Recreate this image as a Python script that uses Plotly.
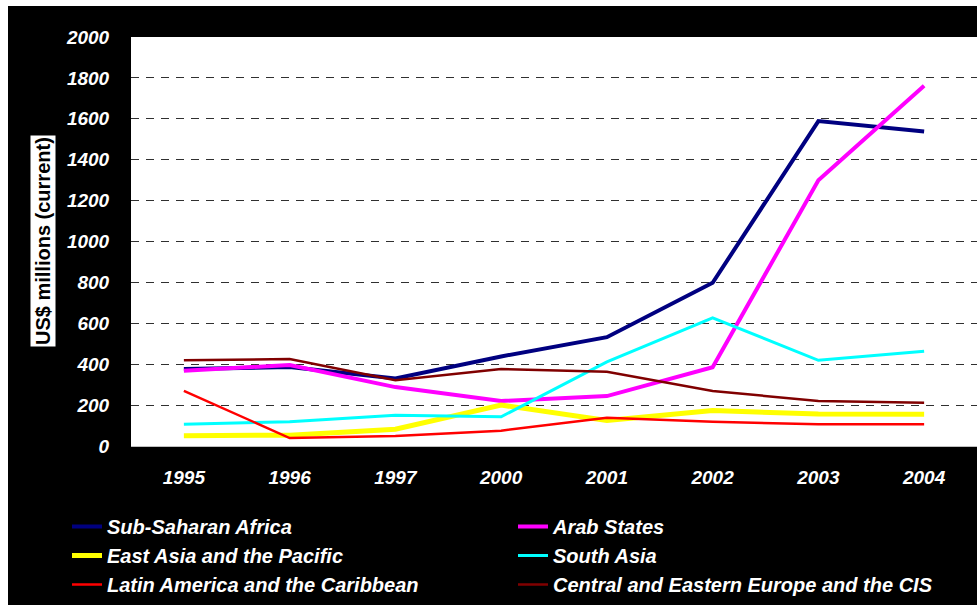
import plotly.graph_objects as go

# Categories (years) and series values, US$ millions (current)
years = ["1995", "1996", "1997", "2000", "2001", "2002", "2003", "2004"]

sub_saharan_africa = [376, 386, 330, 438, 532, 798, 1589, 1538]
arab_states = [368, 396, 288, 220, 244, 385, 1300, 1762]
east_asia_pacific = [50, 53, 82, 200, 125, 173, 156, 155]
south_asia = [106, 119, 150, 143, 411, 627, 419, 463]
latin_america_caribbean = [270, 39, 49, 75, 138, 119, 106, 106]
central_eastern_europe_cis = [419, 425, 322, 376, 363, 269, 220, 212]

y_ticks = [0, 200, 400, 600, 800, 1000, 1200, 1400, 1600, 1800, 2000]

series = [
    ("Sub-Saharan Africa", sub_saharan_africa, "#000080", 4),
    ("Arab States", arab_states, "#FF00FF", 4),
    ("East Asia and the Pacific", east_asia_pacific, "#FFFF00", 5),
    ("South Asia", south_asia, "#00FFFF", 3),
    ("Latin America and the Caribbean", latin_america_caribbean, "#FF0000", 2.5),
    ("Central and Eastern Europe and the CIS", central_eastern_europe_cis, "#800000", 2.5),
]

FONT = "Liberation Sans, Arial, sans-serif"

fig = go.Figure()
for name, values, color, width in series:
    fig.add_trace(go.Scatter(
        x=years, y=values, name=name, mode="lines",
        line=dict(color=color, width=width),
    ))

W, H = 977, 605
left, right, top, bottom = 131, 0, 37, 159
plot_w = W - left - right
plot_h = H - top - bottom

def px_x(p):
    return (p - left) / plot_w

def px_y(p):
    return (H - bottom - p) / plot_h

tick_font = dict(family=FONT, size=19, color="white", weight="bold", style="italic")

fig.update_layout(
    width=W, height=H,
    margin=dict(l=left, r=right, t=top, b=bottom, pad=0),
    paper_bgcolor="black",
    plot_bgcolor="white",
    showlegend=True,
    legend=dict(
        orientation="h",
        x=px_x(67), y=px_y(507), xanchor="left", yanchor="top",
        entrywidth=401, entrywidthmode="pixels",
        bgcolor="black",
        font=dict(family=FONT, size=20, color="white", weight="bold", style="italic"),
        traceorder="normal",
    ),
    xaxis=dict(
        type="category",
        range=[-0.5, len(years) - 0.5],
        showgrid=False,
        showline=True, linecolor="#C0C0C0", linewidth=1,
        ticks="outside", ticklen=14, tickcolor="black",
        tickfont=tick_font,
        zeroline=False,
    ),
    yaxis=dict(
        range=[0, 2000],
        tickvals=y_ticks,
        showgrid=True, gridcolor="#303030", gridwidth=1, griddash="8px,7px",
        zeroline=False,
        showline=False,
        ticks="outside", ticklen=17, tickcolor="black",
        tickfont=tick_font,
    ),
    shapes=[
        # thin white border strips at the top and left edges of the canvas
        dict(type="rect", xref="paper", yref="paper",
             x0=px_x(0), x1=px_x(W), y0=px_y(6), y1=px_y(0),
             fillcolor="white", line=dict(width=0), layer="above"),
        dict(type="rect", xref="paper", yref="paper",
             x0=px_x(0), x1=px_x(8), y0=px_y(H), y1=px_y(0),
             fillcolor="white", line=dict(width=0), layer="above"),
    ],
    annotations=[
        dict(
            text="US$ millions (current)",
            xref="paper", yref="paper",
            x=px_x(42.5), y=0.5, xanchor="center", yanchor="middle",
            textangle=-90, showarrow=False,
            bgcolor="white", borderpad=1,
            font=dict(family=FONT, size=20, color="black", weight="bold"),
        )
    ],
)

fig.write_html("out.html")
